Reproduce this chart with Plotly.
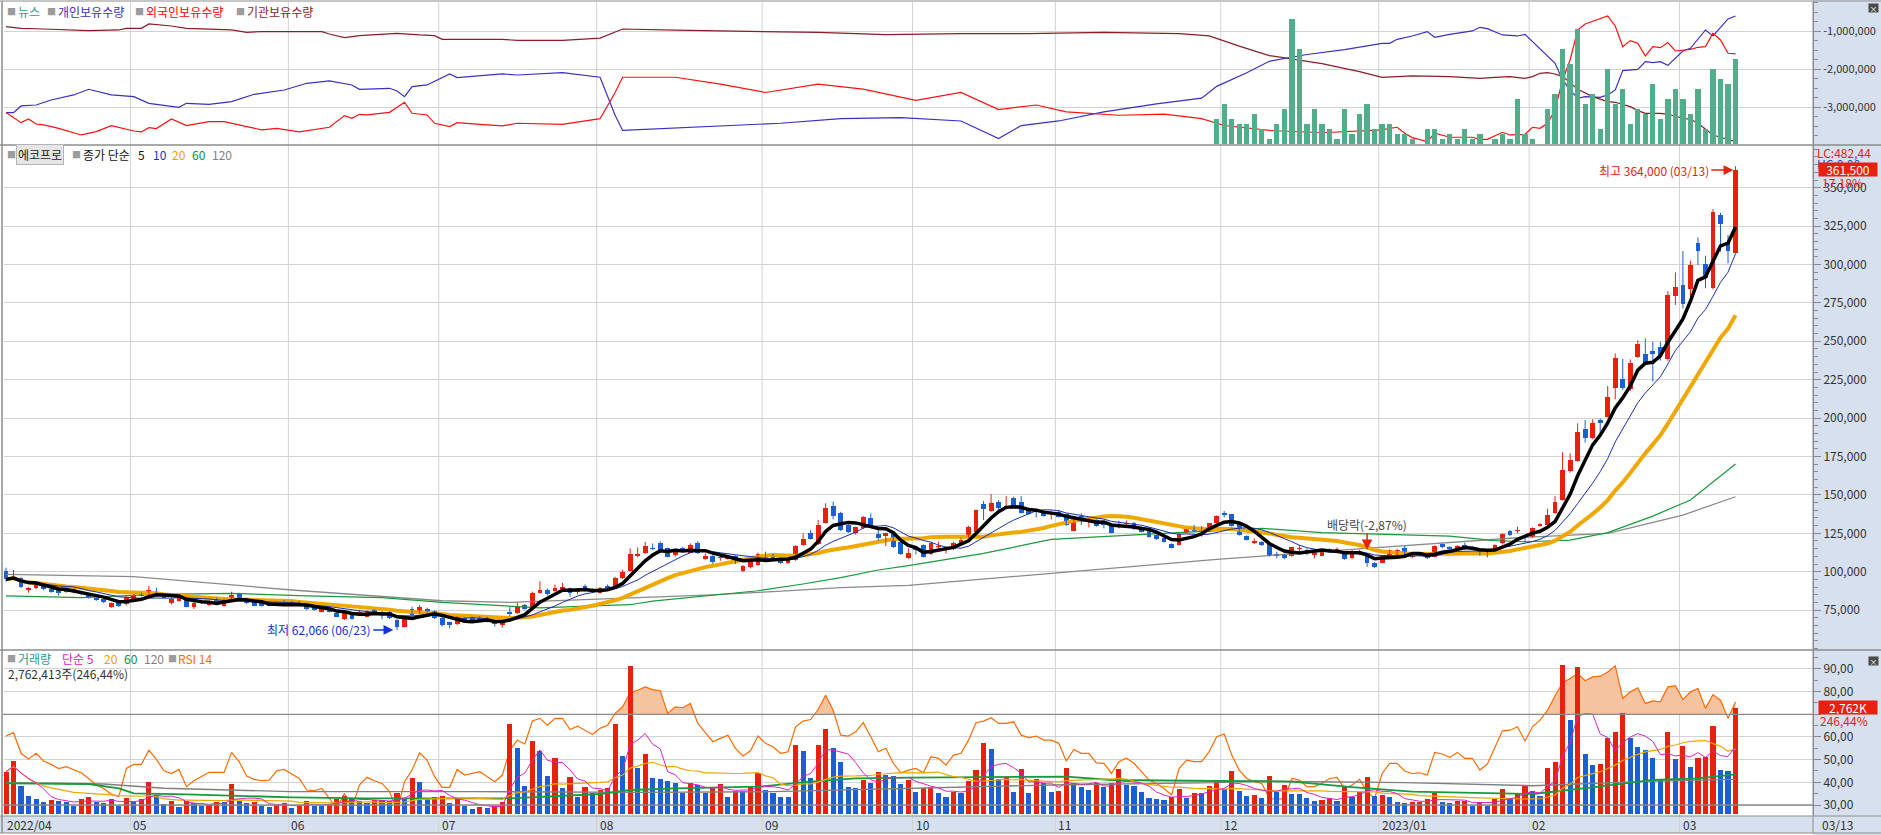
import numpy as np
import pandas as pd
import plotly.graph_objects as go

W, H = 1881, 835
FONT = "Noto Sans CJK KR, Noto Sans, sans-serif"

# ---------------- data (prices in thousand KRW, volumes in thousand shares) ----------------
month_labels = ["2022/04", "05", "06", "07", "08", "09", "10", "11", "12", "2023/01", "02", "03"]
month_first_idx = [0, 17, 38, 58, 79, 101, 121, 140, 162, 183, 203, 223]
last_date_label = "03/13"

opens = [100.5, 95.0, 95.7, 88.1, 89.2, 91.8, 88.5, 88.1, 86.8, 88.5, 87.0, 85.3, 82.4, 82.0, 77.2, 79.4, 78.7, 80.9, 85.9, 84.8,
         86.3, 84.8, 79.8, 80.9, 82.0, 77.2, 80.9, 78.3, 82.0, 77.7, 80.9, 85.9, 82.7, 80.5, 79.8, 80.5, 78.3, 80.5, 80.0, 80.5,
         78.3, 77.2, 74.0, 75.1, 73.3, 69.0, 72.9, 71.8, 70.7, 75.1, 74.0, 74.0, 68.6, 64.2, 75.5, 72.9, 75.5, 74.4, 70.1, 67.0,
         65.7, 70.1, 69.6, 70.0, 70.0, 67.4, 65.3, 73.5, 72.9, 78.3, 75.5, 86.3, 88.0, 87.4, 88.7, 89.1, 86.5, 90.9, 88.7, 86.3,
         90.9, 90.2, 95.6, 100.6, 110.6, 111.9, 115.4, 118.9, 115.2, 110.8, 115.2, 112.4, 118.9, 108.2, 110.4, 109.1, 108.2, 110.4, 100.4, 103.2,
         104.3, 110.8, 111.3, 109.1, 105.8, 107.6, 117.4, 125.0, 117.8, 131.9, 142.7, 138.4, 130.4, 124.9, 128.2, 134.7, 124.5, 123.2, 124.5, 119.5,
         108.7, 115.6, 117.4, 111.3, 116.1, 114.1, 114.6, 118.9, 122.8, 126.0, 143.8, 139.5, 145.6, 141.2, 147.7, 145.1, 141.2, 139.9, 139.0, 138.2,
         139.0, 137.5, 126.7, 136.2, 133.4, 133.6, 131.2, 130.4, 130.4, 131.2, 131.9, 129.3, 126.5, 123.9, 121.7, 118.0, 117.4, 125.6, 127.3, 126.0,
         126.0, 131.5, 137.7, 137.3, 131.5, 123.2, 118.9, 119.5, 118.4, 111.0, 111.3, 110.2, 115.0, 113.5, 110.8, 110.4, 114.7, 113.9, 111.3, 108.7,
         112.3, 111.3, 105.8, 105.8, 109.3, 110.2, 115.6, 109.3, 111.9, 111.3, 109.8, 117.8, 116.3, 114.6, 117.4, 116.3, 114.1, 110.8, 114.6, 118.4,
         126.7, 126.5, 122.5, 122.8, 130.1, 130.4, 138.0, 146.7, 165.8, 172.1, 192.7, 186.8, 198.7, 200.9, 219.8, 225.2, 218.7, 239.9, 241.7, 243.7,
         246.0, 238.2, 279.7, 286.6, 283.8, 313.7, 300.1, 284.5, 332.2, 314.8, 307.7]
highs = [102.6, 101.1, 96.5, 90.0, 92.5, 92.3, 89.0, 88.8, 88.8, 89.0, 87.5, 85.7, 83.0, 82.5, 80.0, 80.0, 84.5, 85.5, 86.5, 90.7,
         89.6, 85.3, 82.8, 84.8, 82.5, 80.3, 81.5, 81.3, 83.0, 82.5, 87.0, 86.3, 83.1, 81.0, 80.3, 81.0, 80.3, 81.3, 80.9, 81.0,
         78.7, 77.7, 77.0, 75.5, 73.8, 73.8, 73.3, 75.1, 74.8, 75.5, 74.4, 74.4, 69.0, 71.2, 77.2, 78.3, 76.6, 74.8, 70.5, 67.5,
         71.2, 70.5, 70.7, 71.1, 70.5, 67.8, 68.3, 77.2, 80.0, 79.0, 87.0, 93.9, 89.1, 91.7, 92.8, 89.6, 89.0, 91.7, 89.1, 90.0,
         91.7, 96.7, 101.3, 115.2, 115.8, 119.5, 118.4, 119.8, 115.6, 115.2, 116.3, 118.4, 119.8, 111.9, 110.8, 111.3, 110.8, 110.8, 104.3, 108.7,
         112.4, 113.0, 111.7, 109.5, 109.1, 117.2, 124.9, 127.1, 133.6, 144.5, 145.6, 139.0, 131.0, 129.3, 136.2, 138.0, 127.1, 125.4, 125.0, 120.0,
         115.2, 116.7, 117.8, 118.9, 119.5, 116.7, 119.5, 122.1, 129.9, 140.5, 146.0, 150.6, 146.6, 149.2, 148.8, 149.2, 141.7, 141.2, 139.5, 139.7,
         140.1, 138.0, 135.6, 138.0, 135.1, 134.1, 132.5, 130.8, 133.2, 133.2, 132.3, 129.7, 127.0, 124.3, 122.1, 118.4, 125.0, 127.9, 130.4, 129.7,
         131.9, 136.7, 139.5, 137.7, 131.9, 123.6, 121.7, 119.9, 118.9, 113.0, 111.7, 116.3, 117.4, 115.2, 113.5, 113.5, 115.2, 115.8, 111.7, 114.1,
         114.1, 112.0, 106.2, 110.8, 114.6, 115.0, 116.7, 112.0, 112.4, 111.7, 117.2, 118.4, 116.7, 117.2, 118.9, 116.7, 114.6, 113.5, 117.8, 125.0,
         127.1, 129.3, 123.0, 128.8, 131.5, 141.0, 149.3, 177.7, 177.1, 196.6, 198.7, 199.2, 199.8, 220.9, 242.1, 238.5, 238.2, 250.8, 251.9, 249.7,
         249.7, 282.7, 294.9, 308.8, 302.5, 317.6, 305.7, 336.1, 333.7, 319.2, 364.0]
lows = [93.5, 94.5, 89.5, 86.3, 88.5, 88.0, 86.3, 84.4, 86.3, 86.0, 84.7, 82.5, 81.0, 79.4, 76.5, 77.0, 78.0, 80.5, 83.8, 84.3,
        83.8, 82.6, 78.7, 80.5, 76.8, 75.7, 79.0, 77.7, 79.0, 77.2, 80.5, 81.5, 79.0, 77.5, 77.3, 77.5, 77.9, 78.5, 78.3, 78.0,
        75.0, 74.6, 73.5, 73.5, 70.3, 68.5, 68.8, 71.4, 70.3, 72.5, 69.0, 69.2, 62.066, 63.8, 71.4, 72.5, 73.3, 69.2, 64.2, 63.1,
        65.3, 67.7, 67.7, 68.1, 67.0, 64.2, 63.5, 71.1, 72.5, 75.3, 75.1, 85.9, 84.4, 87.0, 88.3, 83.7, 85.2, 87.2, 86.1, 85.9,
        88.7, 89.8, 95.2, 100.2, 109.3, 111.5, 114.1, 113.3, 109.3, 109.8, 113.7, 112.0, 111.5, 107.8, 105.0, 107.1, 107.8, 105.0, 99.9, 102.2,
        103.9, 107.6, 107.6, 105.0, 105.0, 107.1, 116.9, 120.9, 117.4, 131.5, 134.1, 126.5, 125.2, 123.9, 127.7, 128.4, 120.2, 116.7, 115.4, 110.8,
        108.3, 111.3, 109.3, 110.8, 114.1, 111.9, 114.1, 117.4, 122.3, 125.6, 133.6, 139.0, 139.5, 140.6, 141.7, 137.9, 137.0, 135.3, 135.8, 134.1,
        135.3, 129.9, 126.2, 130.4, 128.8, 129.3, 128.2, 125.0, 128.2, 128.8, 127.1, 125.6, 122.3, 120.6, 119.0, 115.2, 117.0, 125.2, 125.6, 122.8,
        125.6, 131.0, 135.3, 129.3, 123.5, 120.2, 118.0, 116.7, 109.8, 108.7, 108.0, 109.8, 113.0, 110.8, 108.7, 110.0, 112.6, 112.0, 107.8, 108.2,
        110.8, 103.2, 102.3, 105.4, 108.9, 109.8, 108.9, 108.7, 109.8, 108.2, 109.3, 115.4, 114.1, 114.1, 114.1, 114.1, 110.4, 109.3, 114.1, 117.8,
        123.2, 124.9, 119.0, 122.3, 129.3, 130.0, 137.5, 146.2, 164.5, 171.6, 184.0, 186.3, 187.9, 200.4, 212.2, 218.3, 217.6, 239.0, 234.5, 223.7,
        237.4, 237.2, 273.6, 271.4, 278.0, 299.6, 284.5, 283.8, 308.3, 300.7, 307.0]
closes = [95.0, 96.8, 90.2, 89.6, 91.8, 88.5, 87.4, 86.3, 88.1, 86.8, 85.3, 83.1, 81.6, 80.5, 79.4, 77.7, 83.7, 84.8, 84.2, 88.1,
          84.2, 83.1, 82.4, 83.1, 77.2, 79.8, 79.4, 80.9, 79.4, 82.0, 84.8, 82.0, 79.4, 77.9, 77.9, 77.9, 79.8, 79.0, 78.7, 78.3,
          75.5, 75.1, 76.6, 74.0, 70.7, 73.3, 69.4, 74.0, 74.4, 72.9, 71.8, 69.6, 64.2, 70.7, 71.8, 77.2, 73.8, 69.6, 65.3, 65.3,
          70.7, 68.1, 68.1, 68.5, 67.4, 65.7, 67.9, 73.0, 77.9, 75.7, 86.3, 88.0, 85.5, 89.6, 90.2, 86.3, 88.5, 87.6, 86.5, 89.6,
          89.1, 96.1, 100.0, 111.5, 110.9, 116.7, 115.0, 113.7, 109.8, 114.7, 114.1, 117.4, 111.9, 110.4, 106.5, 109.5, 110.4, 105.4, 103.9, 108.0,
          111.3, 108.0, 108.0, 105.4, 108.7, 116.7, 121.3, 121.3, 130.4, 141.2, 136.2, 127.1, 125.6, 128.8, 135.8, 128.8, 121.7, 124.9, 115.8, 111.3,
          112.0, 114.1, 109.8, 118.4, 116.3, 115.8, 118.9, 120.6, 128.8, 140.1, 140.6, 144.9, 141.2, 142.7, 142.3, 138.4, 137.5, 139.5, 136.2, 138.4,
          135.8, 130.4, 135.1, 132.5, 133.6, 129.7, 131.0, 125.4, 130.0, 131.5, 127.5, 126.0, 122.8, 121.0, 119.5, 115.6, 124.5, 127.5, 127.0, 128.8,
          131.5, 136.2, 137.5, 129.7, 123.9, 120.6, 120.2, 117.1, 110.2, 110.8, 109.1, 115.8, 115.2, 113.3, 113.0, 113.0, 113.0, 114.1, 108.2, 113.5,
          112.5, 105.4, 102.8, 110.2, 114.1, 114.1, 109.3, 111.5, 110.4, 108.7, 116.7, 115.8, 114.6, 116.7, 114.6, 114.6, 110.8, 113.0, 117.4, 124.5,
          123.9, 126.7, 122.3, 128.2, 130.4, 136.9, 145.6, 166.2, 172.7, 190.7, 186.8, 196.6, 197.0, 213.5, 238.9, 219.8, 235.6, 248.2, 236.1, 241.7,
          241.0, 280.1, 285.5, 274.2, 299.6, 309.0, 291.4, 334.4, 326.3, 308.5, 361.5]
volumes = [1106, 1385, 732, 470, 392, 314, 366, 348, 322, 218, 392, 436, 322, 287, 383, 218, 418, 322, 392, 836,
           497, 261, 348, 174, 348, 279, 218, 235, 322, 322, 784, 348, 296, 322, 218, 174, 235, 296, 166, 218,
           348, 218, 218, 261, 392, 470, 409, 348, 279, 366, 366, 331, 558, 409, 950, 836, 383, 436, 470, 296,
           383, 218, 131, 192, 166, 218, 322, 2352, 1733, 740, 1908, 1646, 1002, 1472, 688, 976, 453, 714, 558, 627,
           688, 2352, 1524, 3868, 1211, 1568, 950, 915, 871, 819, 540, 819, 758, 558, 688, 784, 453, 610, 600, 714,
           1063, 627, 558, 453, 440, 1803, 1646, 950, 1803, 2221, 1733, 1368, 714, 671, 888, 819, 1098, 1019, 993, 784,
           888, 584, 671, 714, 558, 453, 584, 558, 871, 1150, 1864, 1699, 915, 976, 584, 1176, 558, 915, 801, 584,
           610, 1193, 801, 714, 627, 801, 714, 819, 1167, 758, 732, 566, 427, 392, 366, 436, 653, 427, 558, 540,
           732, 888, 645, 1124, 601, 470, 497, 427, 993, 584, 758, 523, 515, 427, 340, 366, 409, 348, 697, 453,
           584, 958, 470, 497, 436, 305, 300, 310, 322, 392, 540, 314, 279, 340, 345, 218, 322, 218, 392, 645,
           409, 523, 732, 601, 470, 1193, 1350, 3894, 2457, 3850, 1568, 1281, 1307, 1995, 2134, 2631, 1995, 1742, 1673, 1455,
           889, 2134, 1437, 1777, 1220, 1455, 1498, 2300, 1150, 1121, 2762.413]
rsi14 = [60.4, 61.9, 52.8, 50.3, 52.8, 49.4, 47.9, 46.1, 46.9, 45.4, 44.2, 41.7, 38.8, 37.3, 34.7, 33.7, 46.1, 47.9, 47.9, 54.2,
         50.1, 45.1, 43.9, 45.7, 38.1, 40.7, 42.5, 44.4, 44.4, 44.4, 53.2, 49.1, 42.8, 41.3, 40.7, 41.0, 45.1, 45.7, 43.7, 41.7,
         36.6, 36.3, 37.3, 32.9, 28.5, 35.1, 28.5, 38.8, 42.2, 40.7, 39.5, 35.9, 27.4, 40.3, 45.4, 53.0, 49.8, 42.5, 37.8, 37.8,
         45.7, 43.2, 43.9, 44.7, 42.5, 40.3, 43.2, 54.2, 58.6, 56.9, 67.1, 68.2, 65.2, 68.2, 68.2, 63.3, 64.8, 63.0, 61.1, 63.8,
         65.2, 70.4, 73.3, 79.5, 80.6, 82.1, 80.9, 80.4, 70.4, 73.3, 72.9, 74.8, 66.0, 61.9, 57.9, 59.4, 60.8, 55.0, 51.6, 53.9,
         60.4, 57.2, 55.7, 52.8, 53.5, 64.5, 67.0, 67.7, 72.1, 78.4, 71.8, 60.8, 60.4, 62.3, 66.3, 60.1, 53.5, 55.0, 48.4, 44.2,
         45.4, 46.1, 44.2, 51.3, 50.6, 47.6, 52.0, 52.8, 58.6, 66.3, 67.0, 68.5, 66.0, 66.0, 66.7, 60.8, 59.7, 60.4, 58.6, 58.6,
         57.2, 49.4, 54.5, 52.8, 52.8, 48.6, 48.4, 43.9, 49.1, 50.6, 48.4, 44.7, 41.0, 39.5, 37.3, 34.4, 46.1, 49.8, 49.1, 49.1,
         53.5, 60.1, 61.3, 52.0, 45.4, 41.7, 40.3, 39.5, 32.9, 32.5, 32.9, 41.7, 41.0, 38.1, 38.1, 39.5, 41.7, 42.2, 37.3, 38.8,
         41.3, 35.9, 32.9, 43.9, 48.4, 48.4, 45.0, 43.9, 44.2, 43.2, 53.2, 52.5, 51.0, 53.2, 50.6, 50.6, 45.4, 48.1, 55.7, 62.7,
         63.0, 64.5, 58.2, 64.5, 67.4, 71.8, 78.2, 83.9, 85.8, 88.0, 84.8, 86.5, 86.8, 88.7, 91.4, 77.0, 79.9, 81.7, 74.8, 75.9,
         75.5, 82.1, 82.6, 76.5, 79.9, 81.4, 72.6, 78.7, 76.2, 68.2, 75.5]

# long moving averages (history before the window is not visible)
ma60_idx = [0, 10, 20, 30, 40, 50, 58, 67, 71, 79, 83, 86, 96, 100, 106, 111, 116, 120, 130, 139, 152, 161, 167, 175, 179, 192, 198, 202, 208, 213, 219, 224, 230]
ma60_val = [84.2, 83.1, 85.3, 85.9, 84.2, 83.1, 80.0, 77.6, 76.5, 77.9, 78.5, 80.9, 85.9, 87.6, 92.0, 96.1, 101.1, 104.0, 111.9, 121.0, 124.5, 126.7, 128.2, 125.4, 124.9, 123.2, 120.2, 119.5, 120.6, 125.4, 136.2, 146.7, 170.1]
ma120_idx = [0, 17, 38, 58, 67, 79, 93, 102, 111, 120, 139, 161, 179, 201, 213, 223, 230]
ma120_val = [98.3, 96.8, 88.1, 81.1, 80.0, 82.0, 84.8, 87.0, 89.6, 91.1, 98.9, 108.0, 114.5, 122.1, 124.9, 136.9, 148.8]
vol_ma60_idx = [0, 11, 15, 17, 24, 38, 48, 58, 67, 79, 83, 89, 100, 107, 113, 120, 141, 147, 161, 171, 179, 187, 203, 206, 211, 219, 225, 230]
vol_ma60_val = [801, 784, 671, 540, 514, 436, 409, 400, 409, 523, 627, 671, 714, 845, 932, 950, 976, 888, 871, 845, 700, 584, 523, 584, 697, 889, 932, 1037]
vol_ma120_idx = [0, 13, 21, 38, 62, 84, 102, 120, 139, 161, 166, 186, 203, 219, 230]
vol_ma120_val = [819, 784, 671, 584, 584, 566, 584, 671, 758, 819, 862, 819, 740, 860, 906]

# top panel: news counts and holdings (millions of shares)
news_idx = [161, 162, 163, 164, 165, 166, 167, 168, 169, 170, 171, 172, 173, 174, 175, 176, 177, 178, 179, 180, 181, 182,
            183, 184, 185, 186, 187, 189, 190, 191, 192, 193, 194, 195, 196, 198, 199, 200, 201, 202, 203, 205, 206, 207, 208,
            209, 210, 211, 212, 213, 214, 215, 216, 217, 218, 219, 220, 221, 222, 223, 224, 225, 226, 227, 228, 229, 230]
news_cnt = [5, 8, 5, 4, 4, 6, 3, 1, 4, 7, 25, 19, 4, 7, 4, 3, 1, 7, 2, 6, 8, 3,
            4, 4, 2, 2, 1, 3, 3, 1, 2, 1, 3, 1, 2, 1, 2, 1, 9, 2, 1, 7, 10, 19, 16,
            23, 8, 10, 3, 15, 8, 11, 4, 7, 6, 12, 5, 9, 11, 9, 6, 11, 3, 15, 13, 12, 17]
indiv_idx = [0, 1, 2, 4, 6, 9, 11, 13, 14, 17, 19, 23, 24, 27, 30, 33, 37, 40, 43, 46, 47, 51, 52, 53, 54, 56, 58, 59, 60, 66,
             68, 74, 79, 81, 82, 89, 95, 103, 111, 119, 127, 132, 135, 140, 146, 153, 159, 161, 165, 168, 173, 178,
             183, 184, 185, 187, 189, 190, 192, 194, 195, 196, 197, 199, 201, 202, 203, 204, 206, 207, 208, 209, 210,
             212, 213, 214, 215, 217, 218, 219, 220, 221, 223, 224, 226, 227, 229, 230]
indiv_val = [-3.14, -3.14, -2.965, -2.939, -2.807, -2.675, -2.526, -2.614, -2.675, -2.719, -2.895, -3.0, -2.895, -2.921, -2.851,
             -2.658, -2.544, -2.368, -2.307, -2.412, -2.526, -2.5, -2.57, -2.719, -2.456, -2.412, -2.211, -2.123, -2.219, -2.123,
             -2.15, -2.09, -2.21, -3.21, -3.61, -3.55, -3.48, -3.42, -3.30, -3.27, -3.36, -3.82, -3.48, -3.36, -3.12, -2.91,
             -2.76, -2.45, -2.09, -1.79, -1.61, -1.48,
             -1.316, -1.316, -1.211, -1.123, -1.009, -1.158, -1.079, -1.009, -0.991, -0.895, -0.93, -1.096, -1.123, -1.079,
             -1.272, -1.447, -1.842, -2.281, -2.544, -2.763, -2.719, -2.737, -2.675, -2.544, -2.035, -2.0, -1.798, -1.825,
             -1.798, -1.895, -1.518, -1.447, -0.965, -1.123, -0.675, -0.596]
foreign_idx = [0, 2, 3, 4, 5, 7, 10, 12, 14, 17, 18, 19, 20, 22, 24, 27, 29, 31, 34, 36, 39, 43, 45, 46, 47, 48, 51, 53, 54, 56,
               57, 59, 60, 63, 66, 68, 74, 79, 81, 82, 89, 95, 101, 108, 114, 121, 127, 132, 137, 141, 148, 154, 159, 162,
               168, 175, 183, 184, 185, 186, 187, 189, 190, 192, 195, 196, 197, 199, 200, 202, 203, 204, 205, 206, 207,
               208, 209, 210, 212, 213, 214, 215, 216, 217, 218, 219, 220, 221, 222, 224, 225, 226, 227, 228, 229, 230]
foreign_val = [-3.14, -3.404, -3.307, -3.439, -3.465, -3.553, -3.728, -3.64, -3.482, -3.623, -3.649, -3.535, -3.561, -3.307,
               -3.482, -3.377, -3.377, -3.465, -3.596, -3.553, -3.649, -3.526, -3.219, -3.289, -3.184, -3.202, -3.132, -2.868,
               -3.158, -3.202, -3.421, -3.509, -3.404, -3.447, -3.491, -3.42, -3.45, -3.30, -2.61, -2.21, -2.21, -2.39, -2.61,
               -2.39, -2.52, -2.82, -2.61, -3.06, -2.94, -3.12, -3.21, -3.18, -3.30, -3.48, -3.61, -3.67,
               -3.596, -3.553, -3.526, -3.684, -3.798, -3.904, -3.684, -3.789, -3.789, -3.842, -3.842, -3.658, -3.728,
               -3.711, -3.526, -3.553, -3.421, -3.07, -2.281, -1.754, -0.965, -0.807, -0.658, -0.596, -0.86, -1.404,
               -1.246, -1.316, -1.649, -1.404, -1.43, -1.298, -1.518, -1.474, -1.421, -1.404, -1.053, -1.228, -1.579, -1.596]
inst_idx = [0, 2, 5, 11, 15, 16, 18, 19, 22, 24, 30, 32, 34, 42, 43, 45, 47, 52, 55, 57, 58, 66, 68, 74, 79, 82, 89, 98,
            108, 117, 127, 136, 146, 156, 160, 164, 168, 175, 180, 183, 187, 192, 194, 196, 198, 200, 202, 203, 204, 205,
            206, 207, 208, 209, 211, 213, 214, 216, 217, 218, 220, 221, 223, 224, 225, 227, 228, 230]
inst_val = [-0.877, -0.921, -0.939, -0.982, -0.965, -0.921, -0.921, -0.807, -0.86, -0.921, -0.965, -1.026, -1.009, -1.009,
            -1.07, -1.167, -1.114, -1.053, -1.096, -1.114, -1.211, -1.211, -1.24, -1.24, -1.18, -0.94, -0.97, -1.0, -1.03,
            -1.09, -1.06, -1.06, -1.03, -1.06, -1.12, -1.39, -1.64, -1.85, -2.06, -2.211, -2.175, -2.193, -2.211, -2.237,
            -2.211, -2.193, -2.237, -2.193, -2.105, -2.088, -2.123, -2.193, -2.351, -2.526, -2.719, -2.851, -2.868, -2.982,
            -3.088, -3.158, -3.158, -3.184, -3.289, -3.316, -3.421, -3.728, -3.789, -3.904]

price_ticks = [75, 100, 125, 150, 175, 200, 225, 250, 275, 300, 325, 350]
rsi_ticks = [30, 40, 50, 60, 70, 80, 90]
rsi_hidden_label = 70  # covered by the volume value box in the reference
hold_ticks = [-1, -2, -3]

# ---------------- colors ----------------
UP, DOWN = "#e8200e", "#1b5fd3"
GRID, AXC, SEP = "#d2d2d2", "#8a8a8a", "#8c8c8c"
STRIP = "#d6e0ee"


def px(x):
    return x / W


def py(y):
    return 1 - y / H


o, h, l, c = map(np.array, (opens, highs, lows, closes))
n = len(c)
idx = np.arange(n)
vol = np.array(volumes)
rsi = np.array(rsi14)

fig = go.Figure()

# ---------- top panel ----------
fig.add_trace(go.Bar(x=news_idx, y=news_cnt, width=0.7, marker=dict(color="#52ad8a", line=dict(width=0)),
                     yaxis="y2", hoverinfo="skip"))
for xs, ys, col in [(inst_idx, inst_val, "#8b1c28"), (indiv_idx, indiv_val, "#3a2fc4"), (foreign_idx, foreign_val, "#ff1010")]:
    fig.add_trace(go.Scatter(x=xs, y=ys, mode="lines", line=dict(color=col, width=1.2), yaxis="y", hoverinfo="skip"))

# ---------- price panel ----------
ma5 = pd.Series(c).rolling(5, min_periods=1).mean()
ma10 = pd.Series(c).rolling(10, min_periods=1).mean()
ma20 = pd.Series(c).rolling(20, min_periods=1).mean()
fig.add_trace(go.Scatter(x=ma120_idx, y=ma120_val, mode="lines", line=dict(color="#8a8a8a", width=1.3), yaxis="y3"))
fig.add_trace(go.Scatter(x=ma60_idx, y=ma60_val, mode="lines", line=dict(color="#1a9a3a", width=1.2), yaxis="y3"))
fig.add_trace(go.Scatter(x=idx, y=ma20, mode="lines", line=dict(color="#f0a800", width=4), yaxis="y3"))

up = c >= o
for mask, col in [(up, UP), (~up, DOWN)]:
    wx, wy = [], []
    for i in idx[mask]:
        wx += [i, i, None]
        wy += [l[i], h[i], None]
    fig.add_trace(go.Scatter(x=wx, y=wy, mode="lines", line=dict(color=col, width=1), yaxis="y3", hoverinfo="skip"))
    base = np.minimum(o, c)[mask]
    hgt = np.maximum(np.abs(c - o)[mask], 0.35)
    fig.add_trace(go.Bar(x=idx[mask], y=hgt, base=base, width=0.64, marker=dict(color=col, line=dict(width=0)),
                         yaxis="y3", hoverinfo="skip"))

fig.add_trace(go.Scatter(x=idx, y=ma10, mode="lines", line=dict(color="#1a2fb0", width=1), yaxis="y3"))
fig.add_trace(go.Scatter(x=idx, y=ma5, mode="lines", line=dict(color="#000000", width=3.5), yaxis="y3"))

# ---------- RSI (base axis y4) ----------
fx, fy = [], []
for i in range(n):
    if i > 0 and (rsi[i - 1] - 70) * (rsi[i] - 70) < 0:
        t = (70 - rsi[i - 1]) / (rsi[i] - rsi[i - 1])
        fx.append(i - 1 + t)
        fy.append(70.0)
    fx.append(i)
    fy.append(max(rsi[i], 70.0))
fig.add_trace(go.Scatter(x=fx + fx[::-1], y=fy + [70.0] * len(fx), mode="lines", fill="toself",
                         fillcolor="#f5c3a0", line=dict(width=0), yaxis="y4", hoverinfo="skip"))
fig.add_trace(go.Scatter(x=idx, y=rsi, mode="lines", line=dict(color="#ff6a00", width=1.2), yaxis="y4"))

# ---------- volume (overlay axis y5) ----------
vcol = [UP] + [UP if vol[i] > vol[i - 1] else DOWN for i in range(1, n)]
fig.add_trace(go.Bar(x=idx, y=vol, width=0.68, marker=dict(color=vcol, line=dict(width=0)), yaxis="y5", hoverinfo="skip"))
vma5 = pd.Series(vol).rolling(5, min_periods=1).mean()
vma20 = pd.Series(vol).rolling(20, min_periods=1).mean()
fig.add_trace(go.Scatter(x=vol_ma120_idx, y=vol_ma120_val, mode="lines", line=dict(color="#7f7f7f", width=1.4), yaxis="y5"))
fig.add_trace(go.Scatter(x=vol_ma60_idx, y=vol_ma60_val, mode="lines", line=dict(color="#169b3c", width=1.8), yaxis="y5"))
fig.add_trace(go.Scatter(x=idx, y=vma20, mode="lines", line=dict(color="#f0a800", width=1.2), yaxis="y5"))
fig.add_trace(go.Scatter(x=idx, y=vma5, mode="lines", line=dict(color="#e020c0", width=1), yaxis="y5"))

# ---------- axes ----------
tickfont = dict(family=FONT, size=12, color="#333333")
common_y = dict(side="right", anchor="x", zeroline=False, showline=True, linecolor=AXC, ticks="outside",
                ticklen=7, tickcolor=AXC, showgrid=True, gridcolor=GRID, gridwidth=1, fixedrange=True, tickfont=tickfont)

fig.update_layout(
    width=W, height=H, margin=dict(l=0, r=0, t=0, b=0),
    paper_bgcolor="white", plot_bgcolor="rgba(0,0,0,0)",
    showlegend=False, barmode="overlay", bargap=0,
    font=dict(family=FONT, size=12, color="#333333"),
    xaxis=dict(domain=[px(4), px(1813)], range=[-0.266, 240.3], showticklabels=False, showgrid=False,
               zeroline=False, anchor="y4", fixedrange=True, ticks=""),
    yaxis=dict(domain=[py(144), py(2)], range=[-3.966, -0.229], tickvals=hold_ticks,
               ticktext=["-{:,},000,000".format(-v) for v in hold_ticks],
               minor=dict(ticks="outside", ticklen=4, tickcolor=AXC, dtick=0.25, tick0=0, showgrid=False),
               **{**common_y, "tickfont": dict(family=FONT, size=11, color="#333333")}),
    yaxis2=dict(overlaying="y", range=[0, 28.4], visible=False, fixedrange=True),
    yaxis3=dict(domain=[py(650), py(145)], range=[49.024, 377.786], tickvals=price_ticks,
                ticktext=["{:,}".format(v * 1000) for v in price_ticks],
                minor=dict(ticks="outside", ticklen=4, tickcolor=AXC, dtick=5, tick0=0, showgrid=False), **common_y),
    yaxis4=dict(domain=[py(815), py(650)], range=[25.59, 98.36], tickvals=rsi_ticks,
                ticktext=["" if v == rsi_hidden_label else "{},00".format(v) for v in rsi_ticks],
                minor=dict(ticks="outside", ticklen=4, tickcolor=AXC, dtick=5, tick0=0, showgrid=False), **common_y),
    yaxis5=dict(overlaying="y4", range=[-26.134, 4286.0], visible=False, fixedrange=True),
)

# ---------- shapes ----------
shapes = [
    dict(type="rect", xref="paper", yref="paper", x0=px(1813), x1=1, y0=0, y1=1, fillcolor=STRIP, line=dict(width=0), layer="below"),
    dict(type="rect", xref="paper", yref="paper", x0=0, x1=px(1813), y0=py(833), y1=py(816), fillcolor=STRIP, line=dict(width=0), layer="below"),
]
for m in month_first_idx[1:]:
    shapes.append(dict(type="line", xref="x", yref="paper", x0=m - 0.45, x1=m - 0.45, y0=py(833), y1=py(2),
                       line=dict(color=GRID, width=1), layer="below"))
for yy in [145, 650]:
    shapes.append(dict(type="line", xref="paper", yref="paper", x0=0, x1=1, y0=py(yy), y1=py(yy), line=dict(color=SEP, width=1.5)))
for yy in [816, 833, 1]:
    shapes.append(dict(type="line", xref="paper", yref="paper", x0=0, x1=1, y0=py(yy), y1=py(yy), line=dict(color=SEP, width=1)))
shapes.append(dict(type="line", xref="paper", yref="paper", x0=px(2), x1=px(2), y0=py(833), y1=py(1), line=dict(color=SEP, width=1.5)))
shapes.append(dict(type="line", xref="paper", yref="paper", x0=px(1813), x1=px(1813), y0=py(833), y1=py(1), line=dict(color=SEP, width=1)))
for lv in [70, 30]:
    shapes.append(dict(type="line", xref="paper", yref="y4", x0=px(3), x1=px(1813), y0=lv, y1=lv, line=dict(color="#8a8a8a", width=1.3)))
fig.update_layout(shapes=shapes)

# ---------- annotations ----------
ann = []


def txt(x, y, s, color="#333333", size=12, anchor="left", **kw):
    d = dict(xref="paper", yref="paper", x=px(x), y=py(y), text=s, showarrow=False, xanchor=anchor,
             yanchor="middle", font=dict(family=FONT, size=size, color=color))
    d.update(kw)
    ann.append(d)


SQ = "#9c9c9c"
# top legend
txt(5, 11, "■", SQ, 9)
txt(16, 11, "뉴스", "#3a9a80")
txt(45, 11, "■", SQ, 9)
txt(56, 11, "개인보유수량", "#3a2fc4")
txt(133, 11, "■", SQ, 9)
txt(144, 11, "외국인보유수량", "#ff0000")
txt(234, 11, "■", SQ, 9)
txt(245, 11, "기관보유수량", "#8b1c28")
# price legend
txt(5, 154, "■", SQ, 9)
txt(40, 154, "에코프로", "#222222", 12, anchor="center", bgcolor="#e6e6e6", bordercolor="#b4b4b4",
    borderwidth=1, borderpad=1)
txt(70, 154, "■", SQ, 9)
txt(81, 154, "종가 단순", "#111111")
txt(136, 154, "5", "#111111")
txt(151, 154, "10", "#1030c0")
txt(170, 154, "20", "#f0a000")
txt(190, 154, "60", "#109030")
txt(210, 154, "120", "#808080")
# volume legend
txt(5, 658, "■", SQ, 9)
txt(16, 658, "거래량", "#2a9a90")
txt(60, 658, "단순 5", "#e020c0")
txt(102, 658, "20", "#f0a000")
txt(122, 658, "60", "#109030")
txt(142, 658, "120", "#808080")
txt(166, 658, "■", SQ, 9)
txt(176, 658, "RSI 14", "#ff6a00")
txt(6, 673, "2,762,413주(246,44%)", "#333333")

# date labels
txt(5, 824, month_labels[0], "#333333")
for m, lab in zip(month_first_idx[1:], month_labels[1:]):
    ann.append(dict(xref="x", yref="paper", x=m - 0.45, y=py(824), text=lab, showarrow=False, xanchor="left",
                    yanchor="middle", xshift=1, font=dict(family=FONT, size=12, color="#333333")))
txt(1820, 824, last_date_label, "#333333")

# right-strip value labels
txt(1815, 153, "LC:482,44", "#e8200e", 12)
txt(1815, 163, "HC:0,00", "#2050d0", 12)
txt(1848, 169, "361,500", "white", 12, anchor="center", bgcolor=UP, width=58, height=13, borderpad=0)
txt(1820, 182, "17,18%", "#e8200e", 12)
txt(1848, 707, "2,762K", "white", 12, anchor="center", bgcolor=UP, width=58, height=13, borderpad=0)
txt(1818, 720, "246,44%", "#e8200e", 12)
txt(1873, 8, "×", "white", 8, anchor="center", bgcolor="#4a4a4a", width=9, height=8, borderpad=0)
txt(1873, 661, "×", "white", 8, anchor="center", bgcolor="#4a4a4a", width=9, height=8, borderpad=0)

# chart markers
ann.append(dict(xref="x", yref="y3", x=229.7, y=361.5, ax=-22, ay=0, text="최고 364,000 (03/13)", showarrow=True,
                arrowhead=2, arrowsize=1.3, arrowwidth=1.5, arrowcolor="#e8200e", xanchor="right", standoff=0,
                font=dict(family=FONT, size=12, color="#e8200e")))
ann.append(dict(xref="x", yref="y3", x=51.5, y=62.066, ax=-20, ay=0, text="최저 62,066 (06/23)", showarrow=True,
                arrowhead=2, arrowsize=1.3, arrowwidth=1.5, arrowcolor="#1030e0", xanchor="right", standoff=0,
                font=dict(family=FONT, size=12, color="#1030e0")))
ann.append(dict(xref="x", yref="y3", x=181, y=114.1, ax=0, ay=-18, text="", showarrow=True, arrowhead=2,
                arrowsize=1.4, arrowwidth=1.5, arrowcolor="#e8200e", standoff=0))
ann.append(dict(xref="x", yref="y3", x=181, y=131.0, text="배당락(-2,87%)", showarrow=False, xanchor="center",
                yanchor="middle", font=dict(family=FONT, size=12, color="#444444")))

fig.update_layout(annotations=ann)
fig.write_html(
    "out.html",
    config={"displayModeBar": False, "staticPlot": False},
    post_script="document.body.style.margin='0px';document.body.style.padding='0px';"
                "document.documentElement.style.overflow='hidden';",
)
